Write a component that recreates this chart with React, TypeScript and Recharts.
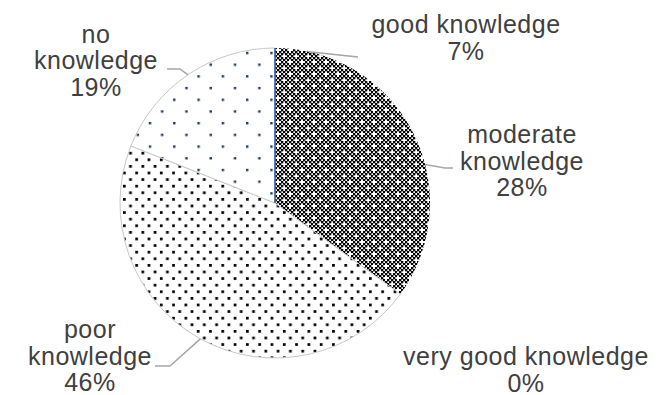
import React from 'react';
import { PieChart, Pie, Cell } from 'recharts';

const categories = [
  'very good knowledge',
  'good knowledge',
  'moderate knowledge',
  'poor knowledge',
  'no knowledge',
];
const shares = [0, 7, 28, 46, 19];

const data = categories.map((name, i) => ({ name, value: shares[i] }));

const RADIAN = Math.PI / 180;
const TEXT = '#404040';
const LEADER = '#a6a6a6';

// fill + edge per slice
const fills = ['#30589c', 'url(#checkCross)', 'url(#checkCross)', 'url(#densDots)', 'url(#sparseDots)'];
const strokes = ['#30589c', 'none', 'none', '#c8c8c8', '#c8c8c8'];

// hand-placed labels: center x, first baseline, word wrap, leader elbow/end
const labelLayout = [
  { x: 526, y: 365, wrap: false, leader: null },
  { x: 466, y: 33, wrap: false, leader: [[358, 57]] },
  { x: 522, y: 143, wrap: true, leader: [[445, 168], [453, 168]] },
  { x: 90, y: 338, wrap: true, leader: [[170, 366], [155, 366]] },
  { x: 96, y: 42.7, wrap: true, leader: [[180, 69], [167, 69]] },
];
const LINE_H = 26.5;

function SliceLabel(props: any) {
  const { cx, cy, midAngle, outerRadius, index, value, name } = props;
  const lay = labelLayout[index];
  const ex = cx + outerRadius * Math.cos(-midAngle * RADIAN);
  const ey = cy + outerRadius * Math.sin(-midAngle * RADIAN);
  const lines = lay.wrap ? String(name).split(' ') : [String(name)];
  lines.push(`${value}%`);
  return (
    <g>
      {index === 0 && (
        <line x1={cx} y1={cy} x2={ex} y2={ey} stroke="#30589c" strokeWidth={1.5} />
      )}
      {lay.leader && (
        <polyline
          points={[[ex, ey], ...lay.leader].map((p) => p.join(',')).join(' ')}
          fill="none"
          stroke={LEADER}
          strokeWidth={1.5}
        />
      )}
      <text
        x={lay.x}
        y={lay.y}
        textAnchor="middle"
        fill={TEXT}
        fontSize={25}
        letterSpacing={0.5}
        fontFamily="'Liberation Sans', Arial, sans-serif"
      >
        {lines.map((t, i) => (
          <tspan key={i} x={lay.x} y={lay.y + i * LINE_H}>
            {t}
          </tspan>
        ))}
      </text>
    </g>
  );
}

function Patterns() {
  // 6x6 cell checkerboard (2px cells) with two cells knocked out -> white crosses
  const cells: React.ReactNode[] = [];
  for (let i = 0; i < 6; i++) {
    for (let j = 0; j < 6; j++) {
      if ((i + j) % 2 !== 0) continue;
      if ((i === 0 && j === 0) || (i === 3 && j === 3)) continue;
      cells.push(<rect key={`${i}-${j}`} x={i * 2} y={j * 2} width={2.3} height={2.3} fill="#000" />);
    }
  }
  return (
    <svg width={0} height={0} style={{ position: 'absolute' }}>
      <defs>
        <pattern id="checkCross" patternUnits="userSpaceOnUse" width={12} height={12} x={1} y={1}>
          <rect width={12} height={12} fill="#fff" />
          <g>{cells}</g>
        </pattern>
        <pattern id="densDots" patternUnits="userSpaceOnUse" width={12.3} height={13.2}>
          <rect width={12.3} height={13.2} fill="#fff" />
          <rect x={0} y={0} width={2.7} height={2.7} fill="#000" />
          <rect x={6.15} y={6.6} width={2.7} height={2.7} fill="#000" />
        </pattern>
        <pattern id="sparseDots" patternUnits="userSpaceOnUse" width={24.3} height={23.4} x={3} y={5}>
          <rect width={24.3} height={23.4} fill="#fff" />
          <rect x={0} y={0} width={2.4} height={2.4} fill="#1f3864" />
          <rect x={12.15} y={11.7} width={2.4} height={2.4} fill="#1f3864" />
        </pattern>
      </defs>
    </svg>
  );
}

export default function App() {
  return (
    <div style={{ position: 'absolute', left: 0, top: 0, width: 668, height: 395, background: '#fff' }}>
      <Patterns />
      <PieChart width={668} height={395} margin={{ top: 0, right: 0, bottom: 0, left: 0 }}>
        <Pie
          data={data}
          dataKey="value"
          nameKey="name"
          cx={275}
          cy={203}
          outerRadius={155}
          startAngle={90}
          endAngle={-270}
          isAnimationActive={false}
          label={SliceLabel}
          labelLine={false}
        >
          {data.map((d, i) => (
            <Cell key={d.name} fill={fills[i]} stroke={strokes[i]} strokeWidth={1} />
          ))}
        </Pie>
      </PieChart>
    </div>
  );
}
